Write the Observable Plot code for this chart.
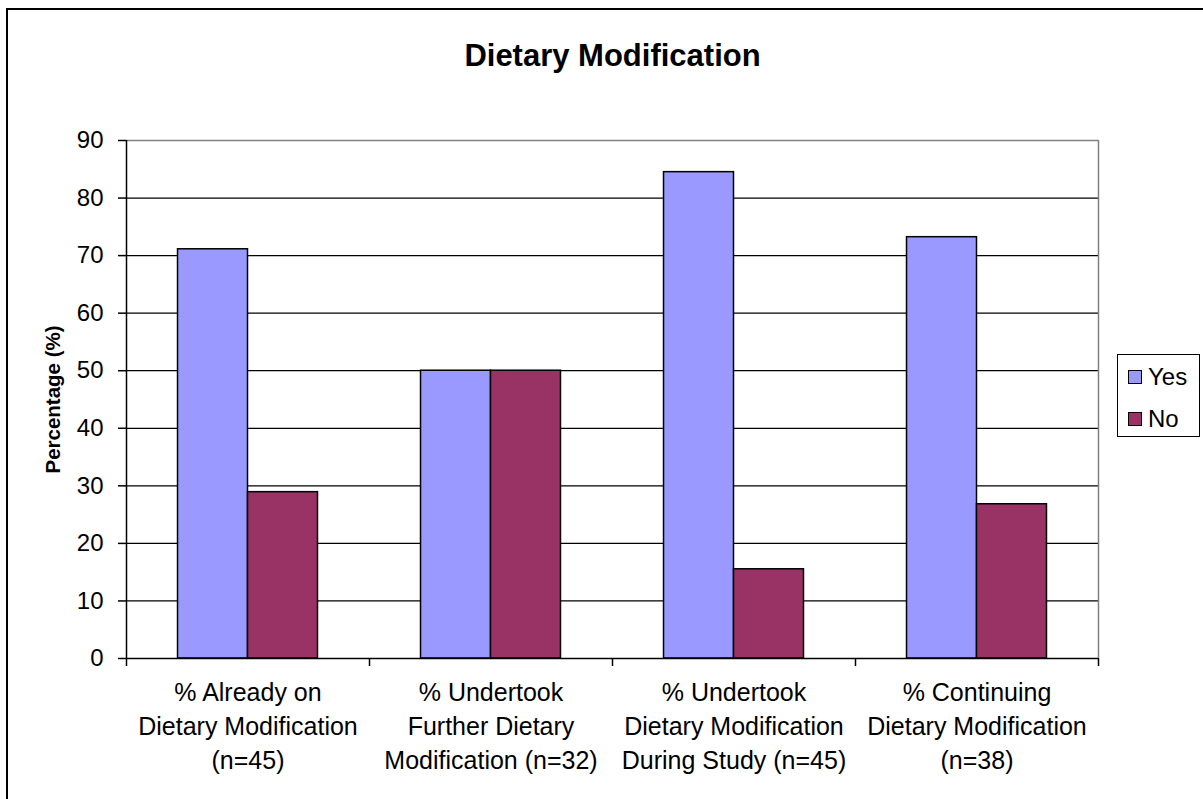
<!DOCTYPE html>
<html>
<head>
<meta charset="utf-8">
<script src="https://cdn.jsdelivr.net/npm/d3@7"></script>
<script src="https://cdn.jsdelivr.net/npm/@observablehq/plot@0.6"></script>
<style>
  html, body { margin: 0; padding: 0; background: #fff; }
  #wrap { position: relative; width: 1203px; height: 799px; overflow: hidden; font-family: "Liberation Sans", Arial, sans-serif; }
  #border { position: absolute; left: 6px; top: 8px; width: 1400px; height: 1000px; border: 2px solid #000; box-sizing: border-box; pointer-events: none; }
  #chart { position: absolute; left: 0; top: 0; }
  #legend { position: absolute; left: 1117px; top: 354px; width: 83px; height: 83px; border: 1.5px solid #000; box-sizing: border-box; background: #fff; }
  .li { position: absolute; left: 10px; display: flex; align-items: center; font-size: 24px; color: #000; }
  .sw { width: 12px; height: 12px; border: 1px solid #000; margin-right: 6px; }
</style>
</head>
<body>
<div id="wrap">
  <div id="chart"></div>
  <div id="border"></div>
  <div id="legend"></div>
</div>
<script>
const title = "Dietary Modification";
const yLabel = "Percentage (%)";
const categories = [
  "% Already on\nDietary Modification\n(n=45)",
  "% Undertook\nFurther Dietary\nModification (n=32)",
  "% Undertook\nDietary Modification\nDuring Study (n=45)",
  "% Continuing\nDietary Modification\n(n=38)"
];
const seriesNames = ["Yes", "No"];
const seriesColors = ["#9999FF", "#993366"];
const yesValues = [71.1, 50, 84.5, 73.2];
const noValues = [28.9, 50, 15.5, 26.8];
const yTicks = [0, 10, 20, 30, 40, 50, 60, 70, 80, 90];

// Build table
const rows = [];
categories.forEach((c, i) => {
  rows.push({cat: c, idx: i, series: "Yes", value: yesValues[i], slot: 0});
  rows.push({cat: c, idx: i, series: "No", value: noValues[i], slot: 1});
});
const gap = 0.212; // half of the inter-group gap (Excel gap width 150%)
const barW = (1 - 2 * gap) / 2;

const chart = Plot.plot({
  width: 1203,
  height: 799,
  marginLeft: 126,
  marginRight: 105,
  marginTop: 140,
  marginBottom: 141,
  style: {fontFamily: "'Liberation Sans', Arial, sans-serif", background: "transparent", color: "#000"},
  x: {type: "linear", domain: [0, categories.length], axis: null},
  y: {domain: [0, 90], axis: null},
  color: {domain: seriesNames, range: seriesColors},
  marks: [
    Plot.ruleY(yTicks.filter(v => v > 0 && v < 90), {stroke: "#000", strokeWidth: 1.3}),
    Plot.ruleY([90], {stroke: "#808080", strokeWidth: 1.5}),
    Plot.ruleX([categories.length], {stroke: "#808080", strokeWidth: 1.5}),
    Plot.rectY(rows, {
      x1: d => d.idx + gap + d.slot * barW,
      x2: d => d.idx + gap + (d.slot + 1) * barW,
      y: "value",
      fill: "series",
      stroke: "#000",
      strokeWidth: 1.5
    }),
    Plot.axisY({ticks: yTicks, tickSize: 8, tickPadding: 15, fontSize: 24, stroke: "#000", strokeWidth: 1.5, label: null, tickFormat: d => String(d)}),
    Plot.axisX({ticks: d3.range(categories.length + 1), tickSize: 8, tickFormat: () => "", stroke: "#000", strokeWidth: 1.5, label: null}),
    Plot.ruleX([0], {stroke: "#000", strokeWidth: 1.5}),
    Plot.ruleY([0], {stroke: "#000", strokeWidth: 1.5}),
    Plot.text(categories, {
      x: (d, i) => i + 0.5,
      frameAnchor: "bottom",
      lineAnchor: "top",
      dy: 18,
      text: d => d,
      fontSize: 25,
      lineHeight: 1.36,
      fill: "#000"
    }),
    Plot.text([yLabel], {
      frameAnchor: "left",
      textAnchor: "middle",
      rotate: -90,
      dx: -73,
      text: d => d,
      fontSize: 20.5,
      fontWeight: "bold",
      fill: "#000"
    }),
    Plot.text([title], {
      frameAnchor: "top",
      dy: -97,
      text: d => d,
      fontSize: 31,
      fontWeight: "bold",
      fill: "#000"
    })
  ]
});
document.getElementById("chart").appendChild(chart);

// Legend
const legend = document.getElementById("legend");
seriesNames.forEach((s, i) => {
  const item = document.createElement("div");
  item.className = "li";
  item.style.top = (i === 0 ? 8 : 50) + "px";
  const sw = document.createElement("div");
  sw.className = "sw";
  sw.style.background = seriesColors[i];
  item.appendChild(sw);
  const t = document.createElement("span");
  t.textContent = s;
  item.appendChild(t);
  legend.appendChild(item);
});
</script>
</body>
</html>
